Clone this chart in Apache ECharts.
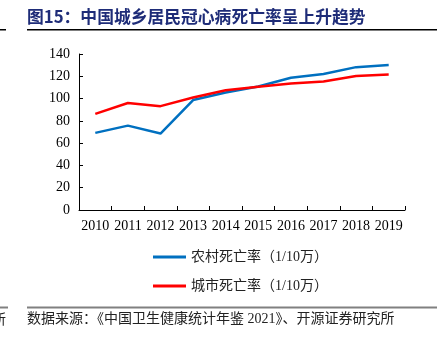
<!DOCTYPE html>
<html>
<head>
<meta charset="utf-8">
<script src="https://cdn.jsdelivr.net/npm/echarts@6/dist/echarts.min.js"></script>
<style>
html,body{margin:0;padding:0;background:#fff;}
#chart{width:437px;height:347px;}
</style>
</head>
<body>
<div id="chart"></div>
<script>
var years = ['2010','2011','2012','2013','2014','2015','2016','2017','2018','2019'];
var rural = [69.2, 75.7, 68.6, 98.7, 105.4, 110.9, 118.7, 122.0, 128.2, 130.1];
var urban = [86.3, 96.0, 93.2, 100.9, 107.5, 110.7, 113.5, 115.3, 120.2, 121.6];
var ruralName = '农村死亡率（1/10万）';
var urbanName = '城市死亡率（1/10万）';
var titleText = '图15：中国城乡居民冠心病死亡率呈上升趋势';
var sourceText = '数据来源：《中国卫生健康统计年鉴 2021》、开源证券研究所';

var serif = '"Liberation Serif", "Times New Roman", serif';
var cjk = '"Liberation Serif", "Noto Sans CJK SC", serif';

var chart = echarts.init(document.getElementById('chart'), null, {renderer: 'canvas'});
chart.setOption({
  animation: false,
  backgroundColor: '#fff',
  grid: {left: 79, right: 32, top: 54, bottom: 137, containLabel: false},
  xAxis: {
    type: 'category',
    data: years,
    boundaryGap: true,
    axisLine: {lineStyle: {color: '#000', width: 1}},
    axisTick: {show: true, inside: true, length: 4, lineStyle: {color: '#000'}},
    axisLabel: {color: '#000', fontFamily: serif, fontSize: 14, margin: 9, interval: 0}
  },
  yAxis: {
    type: 'value',
    min: 0, max: 140, interval: 20,
    axisLine: {show: true, lineStyle: {color: '#000', width: 1}},
    axisTick: {show: true, inside: true, length: 4, lineStyle: {color: '#000'}},
    splitLine: {show: false},
    axisLabel: {color: '#000', fontFamily: serif, fontSize: 14, margin: 9}
  },
  legend: {
    orient: 'vertical',
    left: 153, top: 250,
    padding: 0,
    icon: 'rect',
    itemWidth: 33, itemHeight: 3,
    itemGap: 15,
    textStyle: {color: '#222', fontFamily: cjk, fontSize: 14},
    data: [ruralName, urbanName]
  },
  series: [
    {name: ruralName, type: 'line', data: rural, symbol: 'none', lineStyle: {color: '#0070C0', width: 2.5}, itemStyle: {color: '#0070C0'}},
    {name: urbanName, type: 'line', data: urban, symbol: 'none', lineStyle: {color: '#FF0000', width: 2.5}, itemStyle: {color: '#FF0000'}}
  ],
  graphic: [
    {type: 'text', left: 27, top: 8, style: {text: titleText, fill: '#1e2c78', font: 'bold 16.8px "Noto Sans CJK SC", sans-serif'}},
    {type: 'rect', shape: {x: 27, y: 29, width: 410, height: 1.5}, style: {fill: '#000'}},
    {type: 'rect', shape: {x: 0, y: 29, width: 6, height: 1.5}, style: {fill: '#000'}},
    {type: 'rect', shape: {x: 27, y: 306.5, width: 410, height: 2}, style: {fill: '#808080'}},
    {type: 'rect', shape: {x: 0, y: 306.5, width: 8, height: 2}, style: {fill: '#808080'}},
    {type: 'text', left: 27, top: 312, style: {text: sourceText, fill: '#222', font: '14px "Liberation Serif", "Noto Sans CJK SC", serif'}},
    {type: 'text', x: -8, y: 312, style: {text: '所', fill: '#222', font: '14px "Noto Sans CJK SC", serif'}}
  ]
});
</script>
</body>
</html>
